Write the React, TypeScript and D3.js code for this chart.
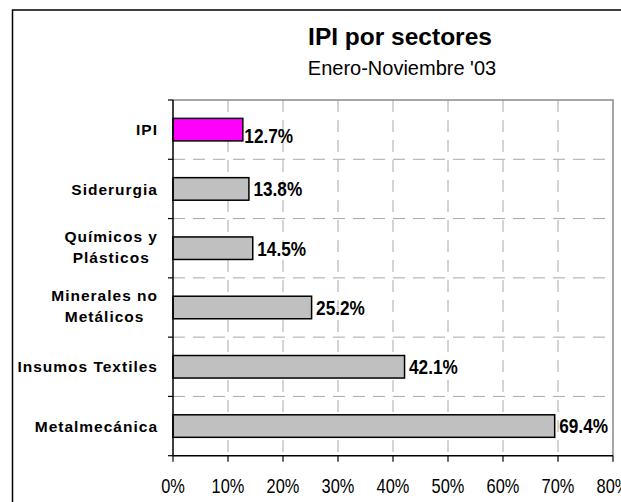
import React, { useEffect, useRef } from "react";
import * as d3 from "d3";

const categories = [
  "IPI",
  "Siderurgia",
  "Químicos y\nPlásticos",
  "Minerales no\nMetálicos",
  "Insumos Textiles",
  "Metalmecánica",
];
const values = [12.7, 13.8, 14.5, 25.2, 42.1, 69.4];
const xTicks = [0, 10, 20, 30, 40, 50, 60, 70, 80];
const title = "IPI por sectores";
const subtitle = "Enero-Noviembre '03";
const highlightCategory = "IPI";

const W = 621;
const H = 502;
const FONT = "'Liberation Sans', Arial, sans-serif";

export default function App() {
  const ref = useRef<SVGSVGElement | null>(null);

  useEffect(() => {
    const svg = d3.select(ref.current);
    svg.selectAll("*").remove();

    const left = 173,
      right = 613,
      top = 100,
      bottom = 455.7;

    const x = d3.scaleLinear().domain([0, 80]).range([left, right]);
    const y = d3.scaleBand<string>().domain(categories).range([top, bottom]).padding(0);
    const barH = y.bandwidth() * 0.38;

    svg.append("rect").attr("width", W).attr("height", H).attr("fill", "#fff");

    // outer chart border
    svg
      .append("rect")
      .attr("x", 12.5)
      .attr("y", 10)
      .attr("width", 800)
      .attr("height", 800)
      .attr("fill", "none")
      .attr("stroke", "#000")
      .attr("stroke-width", 1.5);

    // title
    svg
      .append("text")
      .attr("x", 400)
      .attr("y", 44.5)
      .attr("text-anchor", "middle")
      .attr("font-family", FONT)
      .attr("font-weight", "bold")
      .attr("font-size", 24.5)
      .text(title);
    svg
      .append("text")
      .attr("x", 402)
      .attr("y", 75)
      .attr("text-anchor", "middle")
      .attr("font-family", FONT)
      .attr("font-size", 20)
      .text(subtitle);

    const grid = svg.append("g");
    // vertical dashed gridlines
    grid
      .selectAll("line.v")
      .data(xTicks.filter((t) => t > 0 && t < 80))
      .join("line")
      .attr("x1", (d) => x(d))
      .attr("x2", (d) => x(d))
      .attr("y1", top)
      .attr("y2", bottom)
      .attr("stroke", "#a8a8a8")
      .attr("stroke-width", 1)
      .attr("stroke-dasharray", "12,8");
    // horizontal dashed gridlines at category boundaries
    const boundaries = categories.slice(1).map((c) => y(c) as number);
    grid
      .selectAll("line.h")
      .data(boundaries)
      .join("line")
      .attr("x1", left)
      .attr("x2", right)
      .attr("y1", (d) => d)
      .attr("y2", (d) => d)
      .attr("stroke", "#a8a8a8")
      .attr("stroke-width", 1)
      .attr("stroke-dasharray", "12,8");

    // plot area top & right border
    svg
      .append("path")
      .attr("d", `M${left},${top}H${right}V${bottom}`)
      .attr("fill", "none")
      .attr("stroke", "#8a8a8a")
      .attr("stroke-width", 1.5);

    // bars
    svg
      .append("g")
      .selectAll("rect")
      .data(categories)
      .join("rect")
      .attr("x", x(0))
      .attr("y", (d) => (y(d) as number) + (y.bandwidth() - barH) / 2)
      .attr("width", (d, i) => x(values[i]) - x(0))
      .attr("height", barH)
      .attr("fill", (d) => (d === highlightCategory ? "#ff00ff" : "#c0c0c0"))
      .attr("stroke", "#000")
      .attr("stroke-width", 1.5);

    // axes lines
    const allBounds = [top, ...boundaries, bottom];
    svg
      .append("line")
      .attr("x1", left)
      .attr("x2", left)
      .attr("y1", top)
      .attr("y2", bottom)
      .attr("stroke", "#000")
      .attr("stroke-width", 1.5);
    svg
      .append("g")
      .selectAll("line")
      .data(allBounds)
      .join("line")
      .attr("x1", left - 5)
      .attr("x2", left)
      .attr("y1", (d) => d)
      .attr("y2", (d) => d)
      .attr("stroke", "#000")
      .attr("stroke-width", 1.2);
    svg
      .append("line")
      .attr("x1", left)
      .attr("x2", right)
      .attr("y1", bottom)
      .attr("y2", bottom)
      .attr("stroke", "#000")
      .attr("stroke-width", 1.5);
    svg
      .append("g")
      .selectAll("line")
      .data(xTicks)
      .join("line")
      .attr("x1", (d) => x(d))
      .attr("x2", (d) => x(d))
      .attr("y1", bottom)
      .attr("y2", bottom + 6)
      .attr("stroke", "#000")
      .attr("stroke-width", 1.2);

    // x tick labels (narrow)
    svg
      .append("g")
      .selectAll("text")
      .data(xTicks)
      .join("text")
      .attr("transform", (d) => `translate(${x(d)},492.5) scale(0.82,1)`)
      .attr("text-anchor", "middle")
      .attr("font-family", FONT)
      .attr("font-size", 20)
      .text((d) => `${d}%`);

    // value labels
    svg
      .append("g")
      .selectAll("text")
      .data(categories)
      .join("text")
      .attr("transform", (d, i) => {
        const cy = (y(d) as number) + y.bandwidth() / 2;
        const isHi = d === highlightCategory;
        const tx = x(values[i]) + (isHi ? 1.5 : 4.5);
        const ty = cy + 7.3 + (isHi ? 6 : 0);
        return `translate(${tx},${ty}) scale(0.84,1)`;
      })
      .attr("font-family", FONT)
      .attr("font-weight", "bold")
      .attr("font-size", 20.5)
      .text((d, i) => `${values[i].toFixed(1)}%`);

    // category labels (wrapped, block right-aligned, lines centered)
    const labelRight = 158;
    const lineH = 21;
    const catG = svg.append("g");
    categories.forEach((c) => {
      const lines = c.split("\n");
      const cy = (y(c) as number) + y.bandwidth() / 2;
      const n = lines.length;
      const texts = lines.map((ln, k) =>
        catG
          .append("text")
          .attr("x", labelRight)
          .attr("y", cy + (k - (n - 1) / 2) * lineH + (n > 1 ? 4 : 5.6))
          .attr("text-anchor", "end")
          .attr("font-family", FONT)
          .attr("font-weight", "bold")
          .attr("font-size", 15.5)
          .attr("letter-spacing", 1)
          .text(ln)
      );
      const widths = texts.map((t) => (t.node() as SVGTextElement).getComputedTextLength());
      const maxW = Math.max(...widths);
      texts.forEach((t, k) => t.attr("x", labelRight - (maxW - widths[k]) / 2));
    });
  }, []);

  return (
    <svg
      ref={ref}
      width={W}
      height={H}
      style={{ position: "absolute", left: 0, top: 0, display: "block" }}
    />
  );
}
